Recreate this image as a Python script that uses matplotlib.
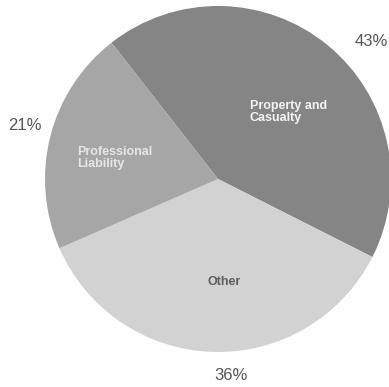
import matplotlib
matplotlib.use("Agg")
from matplotlib import pyplot as plt

# shares of the pie, clockwise from the top-left boundary
categories = ["Property and\nCasualty", "Other", "Professional\nLiability"]
shares = [43, 36, 21]
pct_labels = ["43%", "36%", "21%"]

colors = ["#858585", "#d2d2d2", "#a6a6a6"]
label_colors = ["#f4f4f4", "#5e5e5e", "#e6e6e6"]

W, H = 389, 387
fig = plt.figure(figsize=(W / 100, H / 100), dpi=100)
ax = fig.add_axes([0, 0, 1, 1])

cx, cy, r = 218, H - 179, 173
ax.pie(shares, colors=colors, startangle=128, counterclock=False,
       center=(cx, cy), radius=r, wedgeprops=dict(linewidth=0))

fam = ["Liberation Sans", "DejaVu Sans"]

# labels inside the slices
ax.text(250, H - 112, categories[0], color=label_colors[0], fontsize=9,
        fontweight="bold", family=fam, ha="left", va="center", linespacing=1.05)
ax.text(224, H - 282, categories[1], color=label_colors[1], fontsize=9,
        fontweight="bold", family=fam, ha="center", va="center")
ax.text(77, H - 158, categories[2], color=label_colors[2], fontsize=9,
        fontweight="bold", family=fam, ha="left", va="center", linespacing=1.05)

# percentages outside
for txt, (x, y) in zip(pct_labels, [(371, 42), (231, 376), (25, 125)]):
    ax.text(x, H - y, txt, color="#555555", fontsize=12, family=fam,
            ha="center", va="center")

ax.set_xlim(0, W)
ax.set_ylim(0, H)
ax.set_aspect("equal")
ax.axis("off")

fig.savefig("out.png", dpi=100, facecolor="white")
